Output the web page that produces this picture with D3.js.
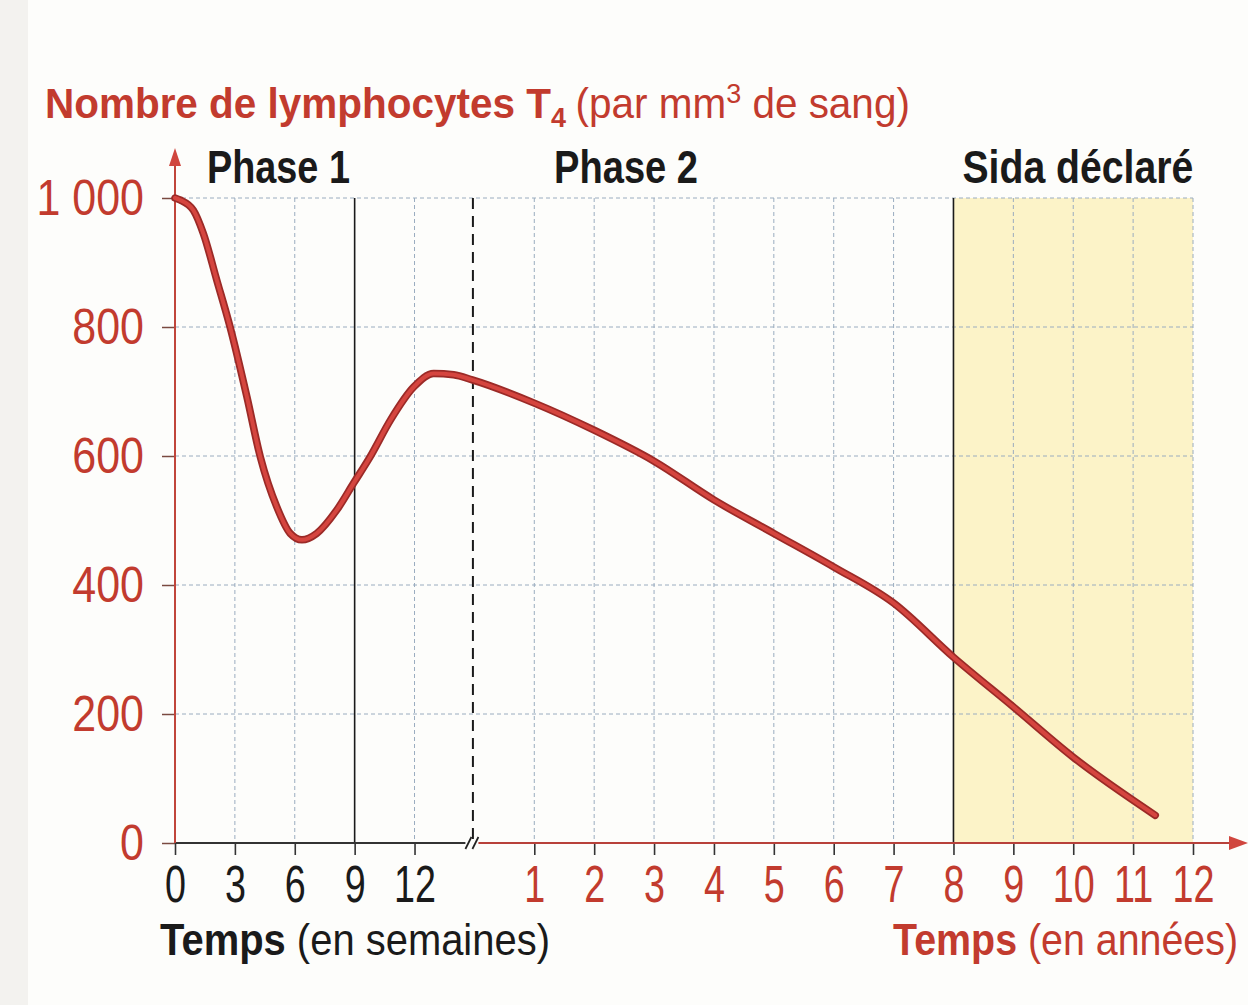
<!DOCTYPE html>
<html><head><meta charset="utf-8">
<script src="https://cdn.jsdelivr.net/npm/d3@7/dist/d3.min.js"></script>
<style>
html,body{margin:0;padding:0;background:#fdfdfb;}
svg{display:block;}
text{font-family:"Liberation Sans",Arial,Helvetica,sans-serif;}
</style></head>
<body>
<svg id="chart" width="1248" height="1005"></svg>
<script>
// ---- data ----
const weekTicks = [0, 3, 6, 9, 12];
const yearTicks = [1, 2, 3, 4, 5, 6, 7, 8, 9, 10, 11, 12];
const yTicks = [0, 200, 400, 600, 800, 1000];
// phase 1 (time in weeks, T4 per mm3)
const weeksData = [[0,1000],[0.25,997],[0.92,981],[1.42,945],[2.09,873],[2.76,800],[3.6,692],[4.27,599],[5.1,521],[5.77,480],[6.36,470],[7.1,480],[8.1,516],[8.95,558],[9.78,599],[10.8,656],[11.96,707],[12.96,728],[13.96,726],[14.89,718]];
// phase 2 + SIDA (time in years)
const yearsData = [[1,682],[2,640],[3,592],[4,532],[5,480],[6,428],[7,372],[8,288],[9,211],[10,133],[11.37,43]];
const phaseLabels = [
  {t:"Phase 1", unit:"w", at:1.6, w:143},
  {t:"Phase 2", unit:"y", at:1.33, w:144},
  {t:"Sida déclaré", unit:"y", at:8.15, w:231}
];

const RED = "#c23b2e", DARK = "#1a1a1a";
const svg = d3.select("#chart");

// left scan edge
svg.append("rect").attr("x",0).attr("y",0).attr("width",28).attr("height",1005).attr("fill","#f3f2ef");

// ---- scales ----
const x = d3.scaleLinear().domain([0, 17]).range([175, 1193]);   // unit scale
const xw = d3.scaleLinear().domain([0, 15]).range([x(0), x(5)]); // weeks
const xy = d3.scaleLinear().domain([0, 12]).range([x(5), x(17)]); // years
const y = d3.scaleLinear().domain([0, 1000]).range([843, 198]);

// helper: draw text then squeeze horizontally to a target width
function fitText(parent, px, py, anchor, target, build) {
  const g = parent.append("g").attr("transform", `translate(${px},${py})`);
  const t = g.append("text").attr("text-anchor", anchor);
  build(t);
  const w = t.node().getBBox().width;
  t.attr("transform", `scale(${target / w},1)`);
  return t;
}
function squeezeTicks(sel, sx) {
  sel.each(function() {
    const el = d3.select(this);
    const tx = +el.attr("x") || 0;
    el.attr("x", tx / sx).attr("transform", `scale(${sx},1)`);
  });
}

// yellow SIDA zone
svg.append("rect").attr("x", xy(8)).attr("y", y(1000))
  .attr("width", xy(12) - xy(8)).attr("height", y(0) - y(1000)).attr("fill", "#fcf3c8");

// grid
const grid = svg.append("g").attr("stroke", "#9aacbf").attr("stroke-width", 1).attr("stroke-dasharray", "4,3").attr("fill","none");
yTicks.filter(v => v > 0).forEach(v => {
  grid.append("line").attr("x1", x(0)).attr("x2", x(17)).attr("y1", y(v)).attr("y2", y(v));
});
weekTicks.filter(w => w !== 0 && w !== 9).forEach(w => {
  grid.append("line").attr("x1", xw(w)).attr("x2", xw(w)).attr("y1", y(1000)).attr("y2", y(0));
});
yearTicks.filter(v => v !== 8).forEach(v => {
  grid.append("line").attr("x1", xy(v)).attr("x2", xy(v)).attr("y1", y(1000)).attr("y2", y(0));
});

// phase separators
svg.append("line").attr("x1", xw(9)).attr("x2", xw(9)).attr("y1", y(1000)).attr("y2", y(0)).attr("stroke", DARK).attr("stroke-width", 1.6);
svg.append("line").attr("x1", xy(8)).attr("x2", xy(8)).attr("y1", y(1000)).attr("y2", y(0)).attr("stroke", DARK).attr("stroke-width", 1.6);
svg.append("line").attr("x1", xy(0) - 1.5).attr("x2", xy(0) - 1.5).attr("y1", y(1000)).attr("y2", y(0)).attr("stroke", DARK).attr("stroke-width", 2).attr("stroke-dasharray", "11,7");

// ---- axes ----
const fmt = d3.formatLocale({decimal: ",", thousands: " ", grouping: [3], currency: ["", ""]}).format(",d");
const yAxis = svg.append("g").attr("transform", `translate(${x(0)},0)`)
  .call(d3.axisLeft(y).tickValues(yTicks).tickSize(13).tickPadding(18).tickFormat(fmt));
yAxis.select(".domain").remove();
yAxis.selectAll(".tick line").attr("stroke", "#7a4a40").attr("stroke-width", 1.5);
yAxis.selectAll(".tick text").attr("fill", RED).attr("font-size", 50).attr("dy", "0.33em")
  .attr("font-family", '"Liberation Sans",Arial,sans-serif');
squeezeTicks(yAxis.selectAll(".tick text"), 0.86);

// x axes: weeks
const xa1 = svg.append("g").attr("transform", `translate(0,${y(0)})`)
  .call(d3.axisBottom(xw).tickValues(weekTicks).tickSize(12).tickPadding(11));
xa1.select(".domain").remove();
xa1.selectAll(".tick line").attr("stroke", "#333").attr("stroke-width", 1.6);
xa1.selectAll(".tick text").attr("fill", DARK).attr("font-size", 51).attr("dy", "0.71em")
  .attr("font-family", '"Liberation Sans",Arial,sans-serif');
squeezeTicks(xa1.selectAll(".tick text"), 0.74);
// x axes: years
const xa2 = svg.append("g").attr("transform", `translate(0,${y(0)})`)
  .call(d3.axisBottom(xy).tickValues(yearTicks).tickSize(12).tickPadding(11));
xa2.select(".domain").remove();
xa2.selectAll(".tick line").attr("stroke", "#333").attr("stroke-width", 1.6);
xa2.selectAll(".tick text").attr("fill", RED).attr("font-size", 51).attr("dy", "0.71em")
  .attr("font-family", '"Liberation Sans",Arial,sans-serif');
squeezeTicks(xa2.selectAll(".tick text"), 0.74);

// axis lines
svg.append("line").attr("x1", x(0)).attr("x2", xy(0) - 9).attr("y1", y(0)).attr("y2", y(0)).attr("stroke", "#333").attr("stroke-width", 2);
svg.append("line").attr("x1", xy(0) + 4).attr("x2", 1232).attr("y1", y(0)).attr("y2", y(0)).attr("stroke", "#b8413a").attr("stroke-width", 2.2);
svg.append("path").attr("d", `M1248,${y(0)} L1229,${y(0)-7} L1229,${y(0)+7} Z`).attr("fill", "#d0463e");
// break mark //
[-6, 1].forEach(dx => {
  svg.append("line").attr("x1", xy(0) + dx - 3).attr("x2", xy(0) + dx + 3)
    .attr("y1", y(0) + 6).attr("y2", y(0) - 6).attr("stroke", "#222").attr("stroke-width", 1.8);
});
// y axis line + arrow
svg.append("line").attr("x1", x(0)).attr("x2", x(0)).attr("y1", y(0)).attr("y2", y(1000) - 36).attr("stroke", "#c0453b").attr("stroke-width", 2);
svg.append("path").attr("d", `M${x(0)},${y(1000)-50} L${x(0)-6},${y(1000)-32} L${x(0)+6},${y(1000)-32} Z`).attr("fill", "#d0463e");

// ---- curve ----
const pts = weeksData.map(d => [xw(d[0]), y(d[1])]).concat(yearsData.map(d => [xy(d[0]), y(d[1])]));
const line = d3.line().curve(d3.curveMonotoneX);
svg.append("path").attr("d", line(pts)).attr("fill", "none").attr("stroke", "#9b2a27").attr("stroke-width", 7.5).attr("stroke-linecap", "round");
svg.append("path").attr("d", line(pts)).attr("fill", "none").attr("stroke", "#d5453f").attr("stroke-width", 4).attr("stroke-linecap", "round");

// ---- texts ----
fitText(svg, 45, 118, "start", 865, t => {
  t.attr("font-size", 42).attr("fill", RED);
  t.append("tspan").attr("font-weight", "bold").text("Nombre de lymphocytes T");
  t.append("tspan").attr("font-weight", "bold").attr("font-size", 28).attr("dy", 9).text("4");
  t.append("tspan").attr("dy", -9).attr("dx", 10).text("(par mm");
  t.append("tspan").attr("font-size", 28).attr("dy", -15).text("3");
  t.append("tspan").attr("dy", 15).text(" de sang)");
});

phaseLabels.forEach(p => {
  fitText(svg, p.unit === "w" ? xw(p.at) : xy(p.at), 183, "start", p.w, t => {
    t.attr("font-size", 46).attr("font-weight", "bold").attr("fill", DARK).text(p.t);
  });
});

fitText(svg, 160, 955, "start", 390, t => {
  t.attr("font-size", 44).attr("fill", DARK);
  t.append("tspan").attr("font-weight", "bold").text("Temps");
  t.append("tspan").text(" (en semaines)");
});
fitText(svg, 1238, 955, "end", 345, t => {
  t.attr("font-size", 44).attr("fill", RED);
  t.append("tspan").attr("font-weight", "bold").text("Temps");
  t.append("tspan").text(" (en années)");
});
</script>
</body></html>
